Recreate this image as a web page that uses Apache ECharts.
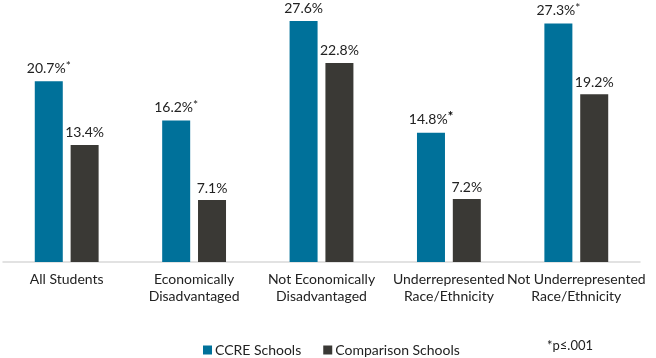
<!DOCTYPE html>
<html>
<head>
<meta charset="utf-8">
<script src="https://cdn.jsdelivr.net/npm/echarts@6/dist/echarts.min.js"></script>
<style>
  html, body { margin: 0; padding: 0; background: #fff; }
  #chart { width: 656px; height: 358px; }
</style>
</head>
<body>
<div id="chart"></div>
<script>
var categories = ['All Students', 'Economically\nDisadvantaged', 'Not Economically\nDisadvantaged',
  'Underrepresented\nRace/Ethnicity', 'Not Underrepresented\nRace/Ethnicity'];
var ccreValues = [20.7, 16.2, 27.6, 14.8, 27.3];
var ccreNotes = ['*', '*', '', 'b', '*'];
var comparisonValues = [13.4, 7.1, 22.8, 7.2, 19.2];
var seriesNames = ['CCRE Schools', 'Comparison Schools'];
var footnote = '*p≤.001';

var font = 'Lato';
var myChart = echarts.init(document.getElementById('chart'));

var labelStyle = {
  show: true,
  position: 'top',
  distance: 5,
  color: '#222',
  fontFamily: font,
  fontSize: 14,
  rich: {
    star: { fontFamily: font, fontSize: 12, color: '#222', verticalAlign: 'top', padding: [0, 0, 4, 0] },
    bstar: { fontFamily: font, fontSize: 13, fontWeight: 'bold', color: '#000', padding: [0, 0, 4, 0] }
  }
};

var option = {
  animation: false,
  grid: { left: 3, right: 16, top: 0, bottom: 96, containLabel: false },
  legend: {
    left: 198,
    top: 338,
    itemWidth: 9,
    itemHeight: 9,
    itemGap: 22,
    icon: 'rect',
    textStyle: { fontFamily: font, fontSize: 14, color: '#222', padding: [0, 0, 0, -2] },
    data: seriesNames
  },
  xAxis: {
    type: 'category',
    data: categories,
    axisLine: { show: true, lineStyle: { color: '#d9d9d9', width: 1.5 } },
    axisTick: { show: false },
    axisLabel: { fontFamily: font, fontSize: 14, color: '#222', lineHeight: 17, margin: 9, interval: 0 }
  },
  yAxis: {
    type: 'value',
    min: 0,
    max: 30,
    show: false,
    splitLine: { show: false }
  },
  series: [
    {
      name: seriesNames[0],
      type: 'bar',
      data: ccreValues,
      barWidth: 28,
      barGap: '28%',
      itemStyle: { color: '#00719A' },
      label: Object.assign({}, labelStyle, {
        formatter: function (p) {
          var n = ccreNotes[p.dataIndex];
          var s = p.value.toFixed(1) + '%';
          if (n === '*') return s + '{star|*}';
          if (n === 'b') return s + '{bstar|*}';
          return s;
        }
      })
    },
    {
      name: seriesNames[1],
      type: 'bar',
      data: comparisonValues,
      barWidth: 28,
      itemStyle: { color: '#3A3935' },
      label: Object.assign({}, labelStyle, {
        formatter: function (p) { return p.value.toFixed(1) + '%'; }
      })
    }
  ],
  graphic: [{
    type: 'text',
    left: 547,
    top: 339,
    style: { text: footnote, fontFamily: font, fontSize: 13, fill: '#222' }
  }]
};

myChart.setOption(option);
window.addEventListener('resize', function () { myChart.resize(); });
</script>
</body>
</html>
